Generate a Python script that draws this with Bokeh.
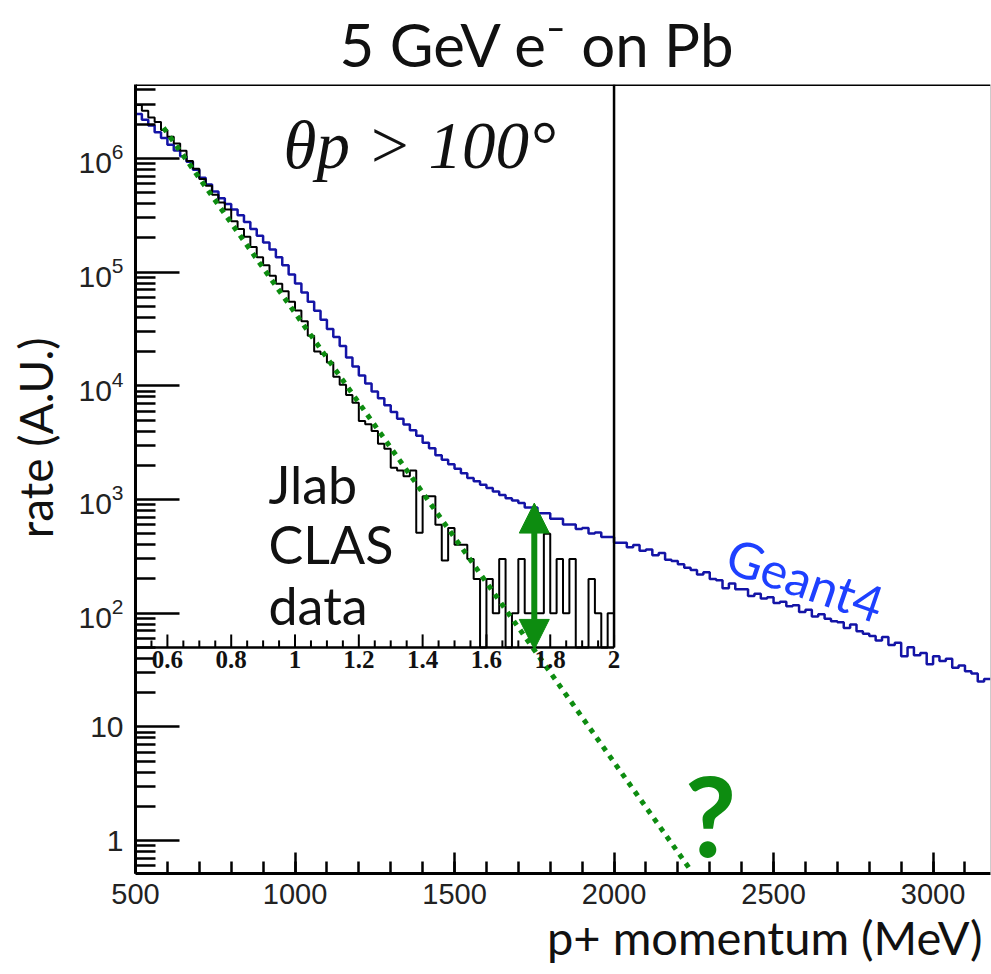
import numpy as np
from bokeh.plotting import figure
from bokeh.models import (Range1d, FixedTicker, Label, LabelSet, ColumnDataSource,
                          Arrow, NormalHead, Span, LogTickFormatter, Title)
from bokeh.embed import file_html
from bokeh.resources import INLINE
from bokeh.core.properties import value

# ---------------------------------------------------------------- data
BIN_MEV = 20

# Geant4 simulation, 20 MeV bins from 500 MeV, log10(rate)
geant4_bin_lo = np.arange(500, 3180, BIN_MEV)
geant4_log10_rate = [
    6.39, 6.34, 6.29, 6.23, 6.18, 6.12, 6.07, 6.02, 5.97, 5.90,
    5.83, 5.77, 5.71, 5.65, 5.60, 5.55, 5.50, 5.44, 5.38, 5.32,
    5.26, 5.20, 5.13, 5.06, 4.98, 4.90, 4.82, 4.74, 4.66, 4.58,
    4.50, 4.43, 4.35, 4.25, 4.17, 4.09, 4.02, 3.95, 3.89, 3.83,
    3.77, 3.71, 3.66, 3.61, 3.56, 3.50, 3.45, 3.39, 3.35, 3.31,
    3.27, 3.23, 3.19, 3.16, 3.13, 3.10, 3.07, 3.04, 3.01, 2.99,
    2.97, 2.93, 2.93, 2.88, 2.88, 2.83, 2.83, 2.78, 2.78, 2.74,
    2.75, 2.70, 2.71, 2.67, 2.67, 2.62, 2.62, 2.58, 2.60, 2.55,
    2.56, 2.51, 2.53, 2.47, 2.46, 2.43, 2.40, 2.38, 2.34, 2.36,
    2.30, 2.29, 2.22, 2.26, 2.21, 2.21, 2.15, 2.17, 2.13, 2.14,
    2.09, 2.10, 2.06, 2.07, 2.01, 2.03, 1.97, 1.99, 1.95, 1.93,
    1.92, 1.87, 1.90, 1.84, 1.82, 1.80, 1.76, 1.79, 1.72, 1.74,
    1.62, 1.70, 1.63, 1.65, 1.55, 1.62, 1.58, 1.60, 1.52, 1.54,
    1.49, 1.47, 1.40, 1.42,
]

# JLab CLAS data, 20 MeV bins from 500 MeV to 2 GeV (0 = empty bin)
clas_bin_lo = np.arange(500, 2000, BIN_MEV)
clas_rate = [
    2.95e6, 2.63e6, 2.29e6, 2.09e6, 1.78e6, 1.55e6, 1.35e6, 1.17e6, 9.5e5, 8.1e5,
    6.6e5, 5.75e5, 4.8e5, 4.1e5, 3.55e5, 2.8e5, 2.4e5, 2.05e5, 1.66e5, 1.35e5,
    1.15e5, 9.3e4, 7.9e4, 6.8e4, 5.5e4, 4.6e4, 3.7e4, 2.75e4, 2.0e4, 1.9e4,
    1.6e4, 1.2e4, 1.02e4, 8.3e3, 7.1e3, 4.9e3, 4.6e3, 4.0e3, 3.1e3, 2.8e3,
    1.9e3, 1.8e3, 1.6e3, 1.8e3, 510, 1070, 1070, 600, 290, 560,
    400, 400, 300, 200, 0, 200, 100, 300, 0, 100,
    300, 100, 100, 100, 500, 100, 300, 100, 300, 0,
    0, 200, 100, 0, 100,
]

# exponential fit to the data, extrapolated
fit_mev = [588, 2236]
fit_rate = [1.86e6, 0.57]

# gap between simulation and extrapolated fit
gap_mev = 1750
gap_rate = [48, 930]

x_ticks = [500, 1000, 1500, 2000, 2500, 3000]
y_ticks = [1, 10, 1e2, 1e3, 1e4, 1e5, 1e6]

inset_floor = 50      # bottom of the CLAS inset
inset_top_mev = 2000  # right edge of the CLAS inset
inset_major_gev = [0.6, 0.8, 1.0, 1.2, 1.4, 1.6, 1.8, 2.0]
inset_major_labels = ["0.6", "0.8", "1", "1.2", "1.4", "1.6", "1.8", "2"]

X_LO, X_HI = 500, 3180
Y_LO, Y_HI = 0.513, 4.47e6

GREEN = "#0d8c10"
DARK_BLUE = "#1414a6"
BRIGHT_BLUE = "#1e40ff"
INK = "#111111"
NBSP = "\u00a0"

# ---------------------------------------------------------------- figure
p = figure(width=991, height=974, x_range=Range1d(X_LO, X_HI), y_range=Range1d(Y_LO, Y_HI),
           y_axis_type="log", output_backend="svg", toolbar_location=None,
           min_border_left=135, min_border_right=1, min_border_top=83, min_border_bottom=101,
           background_fill_color="white", border_fill_color="white",
           title="5 GeV e\u207b on Pb")
p.outline_line_color = None
p.xgrid.visible = False
p.ygrid.visible = False

p.title.text_font = "Lato"
p.title.text_font_size = "60px"
p.title.text_font_style = "normal"
p.title.text_color = INK
p.title.align = "left"
p.title.offset = 204
p.title.standoff = 10

# x axis
p.xaxis.ticker = FixedTicker(ticks=x_ticks, minor_ticks=list(range(500, 3200, 100)))
p.xaxis.major_tick_in = 21
p.xaxis.major_tick_out = 0
p.xaxis.minor_tick_in = 12
p.xaxis.minor_tick_out = 0
p.xaxis.major_label_text_font = "Liberation Sans"
p.xaxis.major_label_text_font_size = "29px"
p.xaxis.major_label_text_color = "#222222"
p.xaxis.major_label_standoff = 10

# x-axis title, right-aligned under the axis
p.add_layout(Title(text="p+ momentum (MeV)", align="right", offset=8, standoff=0,
                   text_font="Lato", text_font_size="47px", text_font_style="normal",
                   text_color=INK), "below")

# y axis (log)
y_minor = [m * 10.0 ** e for e in range(-1, 7) for m in range(2, 10)
           if Y_LO <= m * 10.0 ** e <= Y_HI]
p.yaxis.ticker = FixedTicker(ticks=y_ticks, minor_ticks=y_minor)
p.yaxis.formatter = LogTickFormatter(min_exponent=1)
p.yaxis.major_label_overrides = {10: "10"}
p.yaxis.major_tick_in = 44
p.yaxis.major_tick_out = 0
p.yaxis.minor_tick_in = 20
p.yaxis.minor_tick_out = 0
p.yaxis.major_label_text_font = "Liberation Sans"
p.yaxis.major_label_text_font_size = "30px"
p.yaxis.major_label_text_color = "#222222"
p.yaxis.major_label_standoff = 12
# leading no-break spaces lift the centred label a little towards the top
p.yaxis.axis_label = NBSP * 7 + "rate (A.U.)"
p.yaxis.axis_label_text_font = "Lato"
p.yaxis.axis_label_text_font_size = "46px"
p.yaxis.axis_label_text_font_style = "normal"
p.yaxis.axis_label_text_color = INK
p.yaxis.axis_label_standoff = 12

for ax in (p.xaxis, p.yaxis):
    ax.axis_line_width = 3
    ax.major_tick_line_width = 2.5
    ax.minor_tick_line_width = 2.5
    ax.axis_line_color = "black"
    ax.major_tick_line_color = "black"
    ax.minor_tick_line_color = "black"

p.add_layout(Span(location=Y_HI, dimension="width", line_color="black", line_width=3))
p.add_layout(Span(location=X_HI, dimension="height", line_color="#9a9a9a", line_width=1))

# ---------------------------------------------------------------- histograms
g_x = list(geant4_bin_lo) + [geant4_bin_lo[-1] + BIN_MEV]
g_y = [10 ** v for v in geant4_log10_rate]
g_y = g_y + [g_y[-1]]
p.step(g_x, g_y, mode="after", line_color=DARK_BLUE, line_width=2.5)

c_x = list(clas_bin_lo) + [clas_bin_lo[-1] + BIN_MEV]
c_y = [v if v > 0 else inset_floor for v in clas_rate]
c_y = c_y + [c_y[-1]]
p.step(c_x, c_y, mode="after", line_color="black", line_width=2)

# inset frame (bottom axis and right edge)
p.segment(x0=[X_LO, inset_top_mev], y0=[inset_floor, inset_floor],
          x1=[inset_top_mev, inset_top_mev], y1=[inset_floor, Y_HI],
          line_color="black", line_width=2.5)

inset_major_mev = [g * 1000 for g in inset_major_gev]
inset_minor_mev = [m for m in range(550, 2000, 50) if m not in inset_major_mev]
p.ray(x=inset_major_mev, y=inset_floor, length=13, length_units="screen",
      angle=np.pi / 2, line_color="black", line_width=2)
p.ray(x=inset_minor_mev, y=inset_floor, length=7, length_units="screen",
      angle=np.pi / 2, line_color="black", line_width=2)
inset_src = ColumnDataSource(dict(x=inset_major_mev, y=[inset_floor] * len(inset_major_mev),
                                  t=inset_major_labels))
p.add_layout(LabelSet(x="x", y="y", text="t", source=inset_src, y_offset=-4,
                      text_align="center", text_baseline="top",
                      text_font=value("Liberation Serif"), text_font_style="bold",
                      text_font_size="25px", text_color=INK))

# fit line and gap arrow
p.line(fit_mev, fit_rate, line_color=GREEN, line_width=5, line_dash="5 6")
p.add_layout(Arrow(x_start=gap_mev, y_start=gap_rate[0], x_end=gap_mev, y_end=gap_rate[1],
                   line_color=GREEN, line_width=6,
                   start=NormalHead(size=30, fill_color=GREEN, line_color=GREEN),
                   end=NormalHead(size=30, fill_color=GREEN, line_color=GREEN)))

# ---------------------------------------------------------------- text in the frame
def note(text, dx, dy, **style):
    """Text centred vertically at a pixel offset from the frame's top-left corner."""
    p.add_layout(Label(x=X_LO, y=Y_HI, x_offset=dx, y_offset=dy, text=text,
                       text_baseline="middle", **style))

note("\u03b8p > 100\u00b0", 148, -60, text_font="Liberation Serif", text_font_style="italic",
     text_font_size="67px", text_color=INK)

note("Jlab", 133, -399, text_font="Lato", text_font_size="52px", text_color=INK)
note("CLAS", 133, -459, text_font="Lato", text_font_size="52px", text_color=INK)
note("data", 133, -520, text_font="Lato", text_font_size="52px", text_color=INK)

note("Geant4", 670, -495, text_font="Lato", text_font_size="50px", text_color=BRIGHT_BLUE,
     text_align="center", angle=-0.33)

note("?", 575, -729, text_font="Lato", text_font_style="bold", text_font_size="112px",
     text_color=GREEN, text_align="center")

open("out.html", "w").write(file_html(p, INLINE))
